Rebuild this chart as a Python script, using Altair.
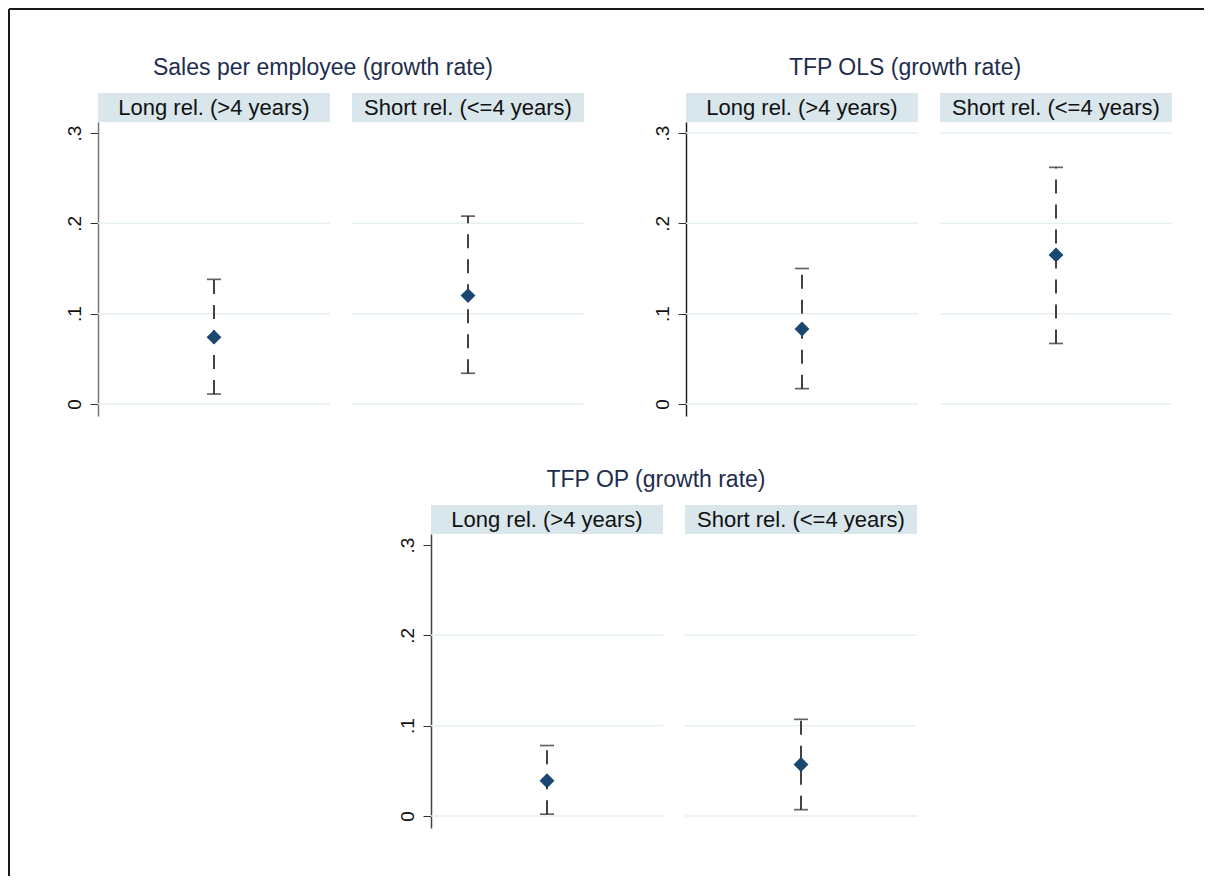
import altair as alt
import pandas as pd

# ---- data ----
measures = ["Sales per employee (growth rate)", "TFP OLS (growth rate)", "TFP OP (growth rate)"]
rels = ["Long rel. (>4 years)", "Short rel. (<=4 years)"]
est = [0.074, 0.120, 0.083, 0.165, 0.039, 0.057]
lo = [0.011, 0.034, 0.017, 0.067, 0.002, 0.007]
hi = [0.138, 0.208, 0.150, 0.262, 0.078, 0.107]
tick_vals = [0, 0.1, 0.2, 0.3]

rows = []
i = 0
for m in measures:
    for r in rels:
        rows.append({"measure": m, "rel": r, "est": est[i], "lo": lo[i], "hi": hi[i]})
        i += 1
df = pd.DataFrame(rows)

FONT = "Liberation Sans"
PW, PH = 232, 294
YDOM = [-0.0133, 0.3122]
GRID = "#e6eff2"


def panel(measure, rel, show_axis, grid_vals, title_x=None, axis_color="#555"):
    d = df[(df.measure == measure) & (df.rel == rel)]
    base = alt.Chart(d)
    if show_axis:
        yaxis = alt.Axis(
            values=tick_vals, grid=False, title=None,
            labelExpr="datum.value == 0 ? '0' : replace(format(datum.value, '.1f'), '0.', '.')",
            labelAngle=270, labelFontSize=19, labelFont=FONT, labelColor="#111",
            labelPadding=6, tickSize=8, tickColor="#333", tickWidth=1,
            domainColor=axis_color, domainWidth=1.5,
        )
    else:
        yaxis = None
    yscale = alt.Scale(domain=YDOM, nice=False, zero=False)
    gridlayer = alt.Chart(pd.DataFrame({"g": grid_vals})).mark_rule(
        color=GRID, strokeWidth=1.5
    ).encode(
        y=alt.Y("g:Q", scale=yscale, axis=yaxis),
        x=alt.value(0), x2=alt.value(PW),
    )
    strip = base.mark_rect(color="#d9e6eb").encode(
        x=alt.value(0), x2=alt.value(PW), y=alt.value(-29), y2=alt.value(0)
    )
    strip_text = base.mark_text(
        font=FONT, fontSize=22, color="#111", baseline="middle", align="center"
    ).encode(x=alt.value(PW / 2), y=alt.value(-14), text="rel:N")
    xenc = alt.X("rel:N", axis=None, scale=alt.Scale(type="point", padding=0.5))
    bar = base.mark_rule(color="#222", strokeWidth=1.7, strokeDash=[14, 11]).encode(
        x=xenc, y=alt.Y("lo:Q", scale=yscale), y2="hi:Q"
    )
    cap_lo = base.mark_tick(color="#222", size=14, thickness=1.7).encode(
        x=xenc, y=alt.Y("lo:Q", scale=yscale)
    )
    cap_hi = base.mark_tick(color="#222", size=14, thickness=1.7).encode(
        x=xenc, y=alt.Y("hi:Q", scale=yscale)
    )
    pt = base.mark_point(shape="diamond", filled=True, size=220, color="#1a476f", opacity=1).encode(
        x=xenc, y=alt.Y("est:Q", scale=yscale)
    )
    layers = [gridlayer, strip, strip_text, bar, cap_lo, cap_hi, pt]
    if title_x is not None:
        layers.append(
            base.mark_text(
                font=FONT, fontSize=23, color="#1e2d4e", baseline="middle", align="center"
            ).encode(x=alt.value(title_x), y=alt.value(-54), text="measure:N")
        )
    return alt.layer(*layers).properties(width=PW, height=PH)


one = pd.DataFrame({"k": [0]})


def blank(w, h, extra=()):
    pts = alt.Chart(one).mark_point(opacity=0).encode(x=alt.value(0), y=alt.value(0))
    return alt.layer(pts, *extra).properties(width=w, height=h)


frame_v = alt.Chart(one).mark_rule(color="#1a1a1a", strokeWidth=2).encode(
    x=alt.value(-89), y=alt.value(-525), y2=alt.value(342)
)
frame_h = alt.Chart(one).mark_rule(color="#1a1a1a", strokeWidth=2).encode(
    x=alt.value(-89), x2=alt.value(1106), y=alt.value(-525)
)

top_row = alt.hconcat(
    panel(measures[0], rels[0], True, [0, 0.1, 0.2], title_x=225, axis_color="#777"),
    panel(measures[0], rels[1], False, [0, 0.1, 0.2]),
    blank(58, PH),
    panel(measures[1], rels[0], True, tick_vals, title_x=219, axis_color="#222"),
    panel(measures[1], rels[1], False, tick_vals),
    spacing=22, bounds="flush",
)
bottom_row = alt.hconcat(
    blank(311, PH, (frame_v, frame_h)),
    panel(measures[2], rels[0], True, [0, 0.1, 0.2], title_x=225, axis_color="#444"),
    panel(measures[2], rels[1], False, [0, 0.1, 0.2]),
    spacing=22, bounds="flush",
)

chart = alt.vconcat(top_row, bottom_row, spacing=412, bounds="flush").properties(
    padding=0, background="white"
).configure_view(strokeWidth=0)

chart.save("out.html", embed_options={"renderer": "svg", "actions": False})
